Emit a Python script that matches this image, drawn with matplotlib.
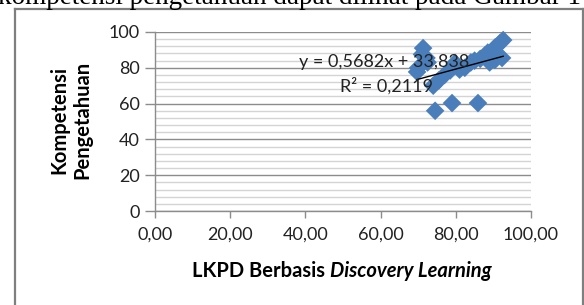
import matplotlib
matplotlib.use("Agg")
import matplotlib.pyplot as plt
from matplotlib.lines import Line2D
from matplotlib.ticker import MultipleLocator, FuncFormatter

# Data
lkpd = [74.5, 79.0, 85.9,
        71.3, 70.0, 72.2, 69.7, 71.0, 72.5,
        74.0, 75.5, 77.0, 78.5, 79.8, 81.0, 82.4, 84.0, 85.0, 86.5,
        87.8, 88.5, 89.9, 90.5, 91.8, 92.6, 90.4, 92.3, 89.0, 91.0]
kompetensi = [56.0, 60.3, 60.3,
              91.0, 80.0, 85.5, 77.7, 87.5, 83.0,
              70.0, 73.0, 76.0, 78.5, 82.7, 79.0, 80.0, 83.0, 84.0, 85.0,
              87.0, 88.5, 90.0, 91.5, 93.9, 95.5, 84.4, 85.5, 83.0, 86.0]
slope, intercept = 0.5682, 33.838
eq_text = "y = 0,5682x + 33,838"
r2_text = "R² = 0,2119"
x_ticks = [0, 20, 40, 60, 80, 100]
y_ticks = [0, 20, 40, 60, 80, 100]

W, H = 584, 305
fig = plt.figure(figsize=(W / 100, H / 100), dpi=100)
fig.patch.set_facecolor("white")

font = "Lato"
ax = fig.add_axes([155 / W, 1 - 211 / H, (531 - 155) / W, (211 - 32) / H])
ax.set_xlim(0, 100)
ax.set_ylim(0, 100)

ax.yaxis.set_major_locator(MultipleLocator(20))
ax.yaxis.set_minor_locator(MultipleLocator(4))
ax.grid(axis="y", which="minor", color="#d4d4d4", lw=1.0)
ax.grid(axis="y", which="major", color="#8c8c8c", lw=1.0)
ax.set_axisbelow(True)

for s in ["top", "right"]:
    ax.spines[s].set_visible(False)
for s in ["left", "bottom"]:
    ax.spines[s].set_color("#8c8c8c")
    ax.spines[s].set_linewidth(1.0)

ax.tick_params(axis="y", which="major", length=7, color="#8c8c8c", width=1,
               labelsize=13, pad=4, labelcolor="#222222")
ax.tick_params(axis="y", which="minor", length=0)
ax.tick_params(axis="x", which="major", length=5, color="#8c8c8c", width=1,
               labelsize=13, pad=6, labelcolor="#222222")
ax.set_xticks(x_ticks)
ax.set_yticks(y_ticks)
ax.xaxis.set_major_formatter(FuncFormatter(lambda v, p: f"{v:.2f}".replace(".", ",")))
ax.yaxis.set_major_formatter(FuncFormatter(lambda v, p: f"{int(v)}"))
for lab in ax.get_xticklabels() + ax.get_yticklabels():
    lab.set_fontfamily(font)

ax.scatter(lkpd, kompetensi, marker="D", s=9.5 ** 2, color="#4a7ebb",
           edgecolors="none", zorder=3, clip_on=False)

xs = [min(lkpd), max(lkpd)]
ax.plot(xs, [slope * v + intercept for v in xs], color="black", lw=1.0, zorder=4)

ax.text(61.0, 83.0, eq_text, fontsize=13, fontfamily=font, color="#222222",
        ha="center", va="center", zorder=5)
ax.text(61.5, 70.0, r2_text, fontsize=13, fontfamily=font, color="#222222",
        ha="center", va="center", zorder=5)

# x-axis title: bold part + bold italic part, centred as one
fig.canvas.draw()
r = fig.canvas.get_renderer()
y_lab = 1 - 271 / H
t1 = fig.text(0, y_lab, "LKPD Berbasis ", fontsize=14.5, fontweight="bold",
              fontfamily=font, ha="left", va="center")
t2 = fig.text(0, y_lab, "Discovery Learning", fontsize=14.5, fontweight="bold",
              fontstyle="italic", fontfamily=font, ha="left", va="center")
w1 = t1.get_window_extent(r).width
w2 = t2.get_window_extent(r).width
x0 = 342 - (w1 + w2) / 2
t1.set_x(x0 / W)
t2.set_x((x0 + w1) / W)

fig.text(71 / W, 1 - 120 / H, "Kompetensi\nPengetahuan", rotation=90,
         fontsize=14.5, fontweight="bold", fontfamily=font, ha="center",
         va="center", linespacing=1.2)

# frame of the figure box
fc = "#7f7f7f"
fig.add_artist(Line2D([15 / W, 583 / W], [1 - 9 / H, 1 - 9 / H], color=fc, lw=1.6))
fig.add_artist(Line2D([15 / W, 15 / W], [1 - 9 / H, 0], color=fc, lw=1.6))
fig.add_artist(Line2D([583 / W, 583 / W], [1 - 9 / H, 0], color=fc, lw=1.6))

# running text above the chart (cut by the top edge, as in the source)
fig.text(-2 / W, 1 - 4 / H, "kompetensi pengetahuan dapat dilihat pada Gambar 1",
         fontsize=19.5, fontfamily="Liberation Serif", ha="left", va="baseline")

fig.savefig("out.png", dpi=100, facecolor="white")
